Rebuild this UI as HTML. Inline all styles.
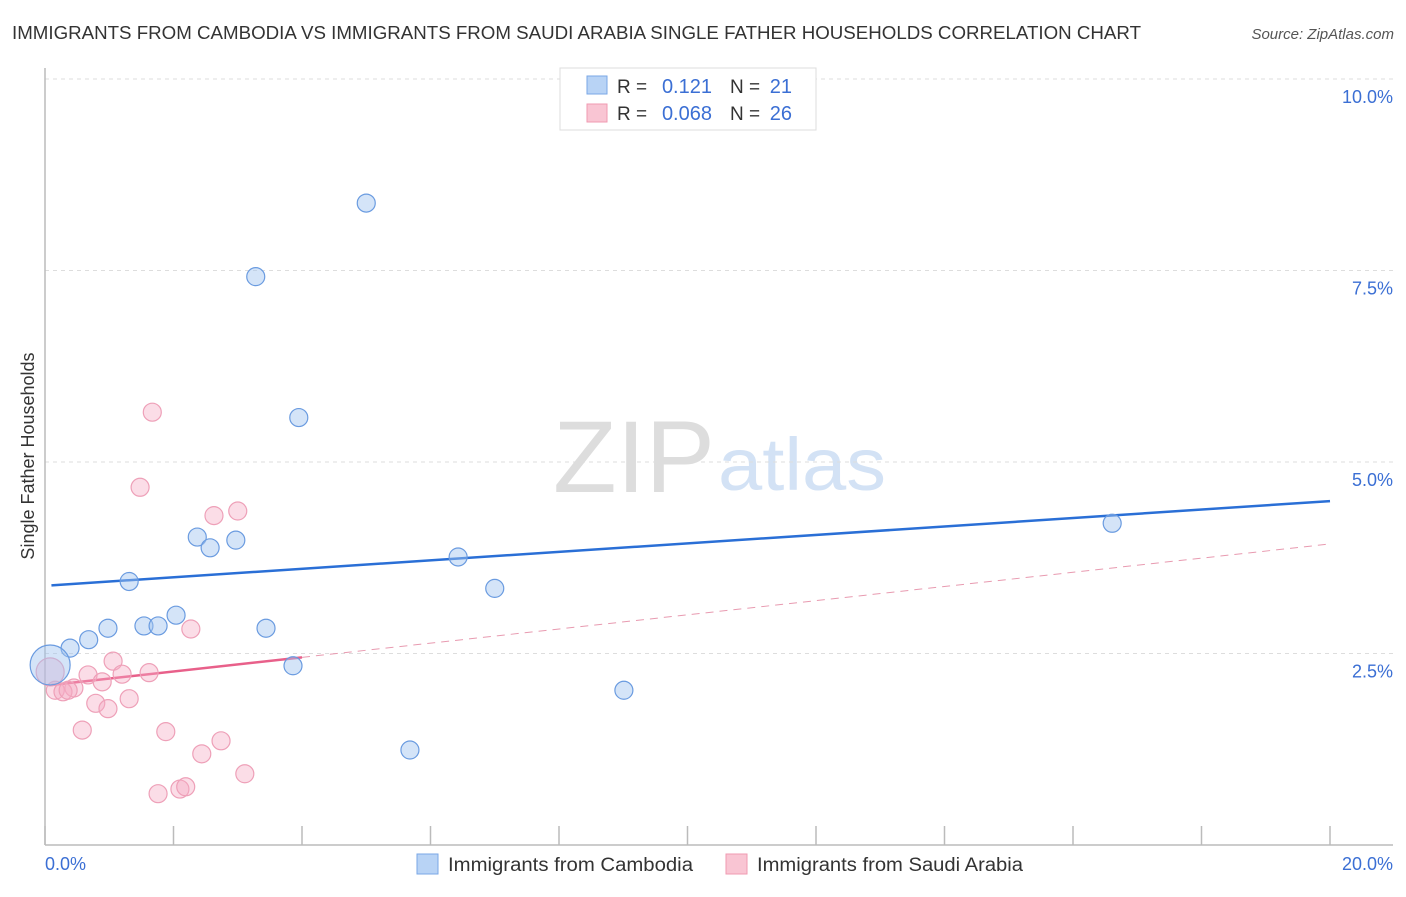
<!DOCTYPE html>
<html><head><meta charset="utf-8"><style>
body{margin:0;background:#fff;font-family:"Liberation Sans",sans-serif}
svg text{font-family:"Liberation Sans",sans-serif}
</style></head><body>
<svg id="chart" width="1406" height="892" viewBox="0 0 1406 892">
<text x="12" y="39" font-size="18" fill="#333" textLength="1129" lengthAdjust="spacingAndGlyphs">IMMIGRANTS FROM CAMBODIA VS IMMIGRANTS FROM SAUDI ARABIA SINGLE FATHER HOUSEHOLDS CORRELATION CHART</text>
<text x="1394" y="39" font-size="15" font-style="italic" fill="#555" text-anchor="end">Source: ZipAtlas.com</text>
<text x="553" y="492" font-size="102" font-family="Liberation Serif" fill="#ddd" textLength="162" lengthAdjust="spacingAndGlyphs">ZIP</text>
<text x="718" y="490" font-size="74" fill="#d3e2f5" textLength="168" lengthAdjust="spacingAndGlyphs">atlas</text>
<g id="grid"></g><g id="axes"></g><g id="trend"></g><g id="points"></g>
<text transform="translate(34,456) rotate(-90)" font-size="18" fill="#333" text-anchor="middle">Single Father Households</text>
<text x="45" y="870" font-size="18" fill="#3b6fd4">0.0%</text>
<text x="1393" y="870" font-size="18" fill="#3b6fd4" text-anchor="end">20.0%</text>
<g>
<rect x="560" y="68" width="256" height="62" fill="#fff" stroke="#ddd"/>
<rect x="587" y="76" width="20" height="18" fill="#b8d3f5" stroke="#7aa7e6"/>
<rect x="587" y="104" width="20" height="18" fill="#f9c5d3" stroke="#f09ab2"/>
<text x="617" y="93" font-size="19" fill="#333">R =</text><text x="712" y="93" font-size="20" fill="#3b6fd4" text-anchor="end">0.121</text>
<text x="730" y="93" font-size="19" fill="#333">N =</text><text x="792" y="93" font-size="20" fill="#3b6fd4" text-anchor="end">21</text>
<text x="617" y="120" font-size="19" fill="#333">R =</text><text x="712" y="120" font-size="20" fill="#3b6fd4" text-anchor="end">0.068</text>
<text x="730" y="120" font-size="19" fill="#333">N =</text><text x="792" y="120" font-size="20" fill="#3b6fd4" text-anchor="end">26</text>
</g>
<g>
<rect x="417" y="854" width="21" height="20" fill="#b8d3f5" stroke="#7aa7e6"/>
<text x="448" y="871" font-size="19" fill="#333" textLength="245" lengthAdjust="spacingAndGlyphs">Immigrants from Cambodia</text>
<rect x="726" y="854" width="21" height="20" fill="#f9c5d3" stroke="#f09ab2"/>
<text x="757" y="871" font-size="19" fill="#333" textLength="266" lengthAdjust="spacingAndGlyphs">Immigrants from Saudi Arabia</text>
</g>
</svg>
<script>
const yTicks=[2.5,5.0,7.5,10.0];
const yTickLabels=["2.5%","5.0%","7.5%","10.0%"];
const xTicks=[0,2,4,6,8,10,12,14,16,18,20];
const cambodiaX=[5.00,3.28,3.95,2.37,2.57,2.97,1.31,6.43,7.00,0.98,1.54,1.76,2.04,0.68,0.39,3.44,3.86,9.01,5.68,16.61,0.08];
const cambodiaY=[8.38,7.42,5.58,4.02,3.88,3.98,3.44,3.76,3.35,2.83,2.86,2.86,3.00,2.68,2.57,2.83,2.34,2.02,1.24,4.20,2.35];
const cambodiaR=[9,9,9,9,9,9,9,9,9,9,9,9,9,9,9,9,9,9,9,9,20];
const saudiX=[1.67,1.48,2.63,3.00,2.27,1.06,1.62,0.67,1.20,0.89,0.45,0.16,0.28,0.36,0.79,1.31,0.98,0.58,1.88,2.74,2.44,3.11,1.76,2.10,2.19,0.08];
const saudiY=[5.65,4.67,4.30,4.36,2.82,2.40,2.25,2.22,2.23,2.13,2.05,2.02,2.00,2.02,1.85,1.91,1.78,1.50,1.48,1.36,1.19,0.93,0.67,0.73,0.76,2.26];
const saudiR=[9,9,9,9,9,9,9,9,9,9,9,9,9,9,9,9,9,9,9,9,9,9,9,9,9,14];
const cambodiaTrend=[3.39,4.49];
const saudiTrend=[2.08,3.93];
const saudiSolidEnd=4;
const NS='http://www.w3.org/2000/svg';
const sx=v=>45+v/20*1285, sy=v=>845-v*76.6;
function mk(tag,attrs,parent){const e=document.createElementNS(NS,tag);for(const k in attrs)e.setAttribute(k,attrs[k]);parent.appendChild(e);return e;}
const grid=document.getElementById('grid'),axes=document.getElementById('axes'),trend=document.getElementById('trend'),pts=document.getElementById('points');
yTicks.forEach((t,i)=>{
 const l=mk('line',{x1:45,x2:1393,y1:sy(t),y2:sy(t),stroke:'#ddd','stroke-dasharray':'4,4'},grid);
 
 
 const tx=mk('text',{x:1393,y:sy(t)+24,'font-size':18,fill:'#3b6fd4','text-anchor':'end'},grid);
 tx.textContent=yTickLabels[i];
 
 
});
const ya=mk('line',{x1:45,x2:45,y1:68,y2:845,stroke:'#bbb','stroke-width':1.5},axes);


const xa=mk('line',{x1:45,x2:1393,y1:845,y2:845,stroke:'#bbb','stroke-width':1.5},axes);


xTicks.forEach(t=>{
 const l=mk('line',{x1:sx(t),x2:sx(t),y1:826,y2:845,stroke:'#bbb','stroke-width':1.5},axes);
 
 
});
const sdy=v=>saudiTrend[0]+(saudiTrend[1]-saudiTrend[0])*v/20;
const bt=mk('line',{x1:sx(0.1),x2:sx(20),y1:sy(cambodiaTrend[0]),y2:sy(cambodiaTrend[1]),stroke:'#2a6fd6','stroke-width':2.5},trend);


const pd=mk('line',{x1:sx(saudiSolidEnd),x2:sx(20),y1:sy(sdy(saudiSolidEnd)),y2:sy(saudiTrend[1]),stroke:'#e89ab0','stroke-width':1,'stroke-dasharray':'8,6'},trend);


const ps=mk('line',{x1:sx(0.1),x2:sx(saudiSolidEnd),y1:sy(sdy(0.1)),y2:sy(sdy(saudiSolidEnd)),stroke:'#e8608a','stroke-width':2.5},trend);


saudiX.forEach((x,i)=>{
 const c=mk('circle',{cx:sx(x),cy:sy(saudiY[i]),r:saudiR[i],fill:'rgba(246,170,195,0.4)',stroke:'#eea0b8','stroke-width':1.2},pts);
 
 
});
cambodiaX.forEach((x,i)=>{
 const c=mk('circle',{cx:sx(x),cy:sy(cambodiaY[i]),r:cambodiaR[i],fill:'rgba(160,196,240,0.45)',stroke:'#6a9be0','stroke-width':1.2},pts);
 
 
});
</script>
</body></html>
